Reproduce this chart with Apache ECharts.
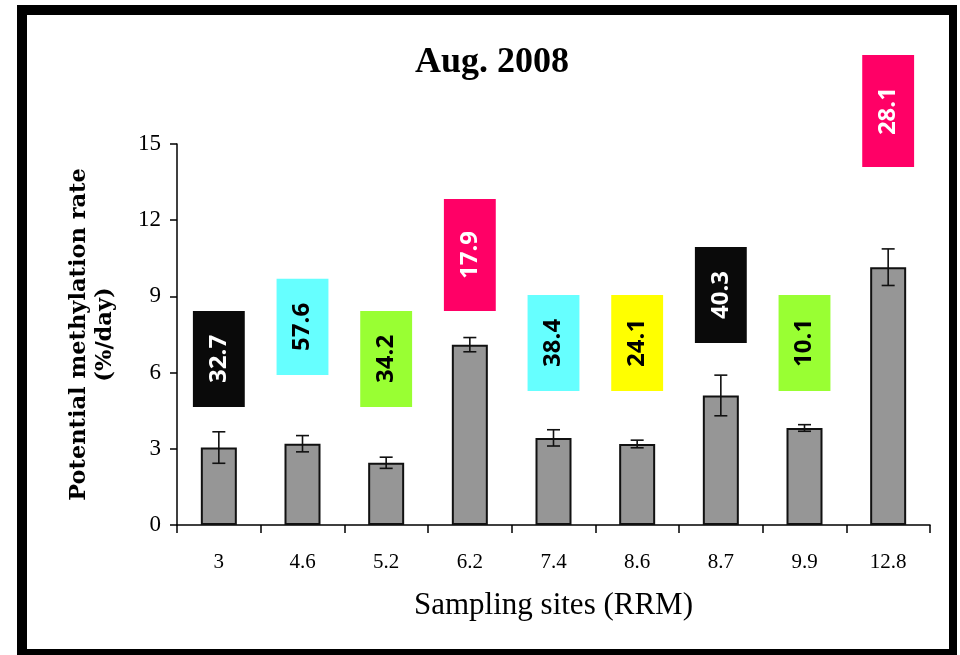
<!DOCTYPE html>
<html>
<head>
<meta charset="utf-8">
<script src="https://cdn.jsdelivr.net/npm/echarts@6/dist/echarts.min.js"></script>
<style>
  html, body { margin: 0; padding: 0; background: #fff; }
  #chart { width: 960px; height: 655px; }
</style>
</head>
<body>
<div id="chart"></div>
<script>
// Sampling sites along the river (river mile) and measured rates
const sites = ['3', '4.6', '5.2', '6.2', '7.4', '8.6', '8.7', '9.9', '12.8'];
const rates = [3.05, 3.2, 2.45, 7.1, 3.43, 3.19, 5.1, 3.82, 10.15];
const rateErrors = [0.62, 0.32, 0.22, 0.28, 0.32, 0.15, 0.8, 0.13, 0.72];
// Values printed in the coloured tags above each site
const tagValues = ['32.7', '57.6', '34.2', '17.9', '38.4', '24.1', '40.3', '10.1', '28.1'];
const yTicks = [0, 3, 6, 9, 12, 15];

// Tag placement (in axis units) and colours
const tagLayout = {
  top:    [8.43, 9.69, 8.43, 12.83, 9.06, 9.06, 10.94, 9.06, 18.5],
  bottom: [4.65, 5.91, 4.65, 8.43, 5.28, 5.28, 7.17, 5.28, 14.09],
  fill:   ['#0a0a0a', '#66ffff', '#99ff33', '#ff0066', '#66ffff', '#ffff00', '#0a0a0a', '#99ff33', '#ff0066'],
  ink:    ['#ffffff', '#000000', '#000000', '#ffffff', '#000000', '#000000', '#ffffff', '#000000', '#ffffff']
};

const serif = '"Liberation Serif", "Times New Roman", serif';

const chart = echarts.init(document.getElementById('chart'), null, { renderer: 'canvas' });

chart.setOption({
  animation: false,
  backgroundColor: '#ffffff',
  graphic: [
    { type: 'rect', z: -10, shape: { x: 17, y: 5, width: 940, height: 650 }, style: { fill: '#000' } },
    { type: 'rect', z: -9, shape: { x: 27, y: 15, width: 922, height: 634 }, style: { fill: '#fff' } }
  ],
  title: {
    text: 'Aug. 2008',
    left: 487,
    textAlign: 'center',
    top: 40,
    textStyle: { fontFamily: serif, fontWeight: 'bold', fontSize: 36, color: '#000' }
  },
  grid: { left: 177, right: 30, top: 144, bottom: 130, containLabel: false },
  xAxis: {
    type: 'category',
    data: sites,
    name: 'Sampling sites (RRM)',
    nameLocation: 'middle',
    nameGap: 65,
    nameTextStyle: { fontFamily: serif, fontSize: 31, color: '#000' },
    axisLine: { lineStyle: { color: '#000', width: 1.5 } },
    axisTick: { show: true, length: 8, alignWithLabel: false, lineStyle: { color: '#000', width: 1.5 } },
    axisLabel: { fontFamily: serif, fontSize: 21, color: '#000', margin: 27 }
  },
  yAxis: {
    type: 'value',
    min: 0,
    max: 15,
    interval: 3,
    name: 'Potential methylation rate\n(%/day)',
    nameLocation: 'middle',
    nameGap: 59,
    nameRotate: 90,
    nameTextStyle: { fontFamily: '"DejaVu Serif", serif', fontWeight: 'bold', fontSize: 22.5, lineHeight: 26, color: '#000' },
    axisLine: { show: true, lineStyle: { color: '#000', width: 1.5 } },
    axisTick: { show: true, length: 7, lineStyle: { color: '#000', width: 1.5 } },
    splitLine: { show: false },
    axisLabel: {
      fontFamily: serif, fontSize: 23, color: '#000', margin: 16,
      formatter: v => (yTicks.indexOf(v) >= 0 ? String(v) : '')
    }
  },
  series: [
    {
      type: 'bar',
      data: rates,
      barWidth: 36,
      itemStyle: { color: '#969696', borderColor: '#111', borderWidth: 2 },
      z: 2
    },
    {
      // error bars: mean ± error
      type: 'custom',
      z: 3,
      data: rates.map((r, i) => [i, r - rateErrors[i], r + rateErrors[i]]),
      renderItem: function (params, api) {
        const lo = api.coord([api.value(0), api.value(1)]);
        const hi = api.coord([api.value(0), api.value(2)]);
        const half = 6.5;
        const st = { stroke: '#111', lineWidth: 1.6 };
        return {
          type: 'group',
          children: [
            { type: 'line', shape: { x1: lo[0], y1: lo[1], x2: hi[0], y2: hi[1] }, style: st },
            { type: 'line', shape: { x1: lo[0] - half, y1: lo[1], x2: lo[0] + half, y2: lo[1] }, style: st },
            { type: 'line', shape: { x1: hi[0] - half, y1: hi[1], x2: hi[0] + half, y2: hi[1] }, style: st }
          ]
        };
      }
    },
    {
      // coloured value tags
      type: 'custom',
      z: 4,
      clip: false,
      data: tagValues.map((t, i) => [i, tagLayout.top[i], tagLayout.bottom[i]]),
      renderItem: function (params, api) {
        const i = params.dataIndex;
        const a = api.coord([api.value(0), api.value(1)]);
        const b = api.coord([api.value(0), api.value(2)]);
        const w = api.size([1, 0])[0] * 0.62;
        return {
          type: 'group',
          children: [
            { type: 'rect', shape: { x: a[0] - w / 2, y: a[1], width: w, height: b[1] - a[1] },
              style: { fill: tagLayout.fill[i] } },
            { type: 'text', x: a[0], y: (a[1] + b[1]) / 2, rotation: Math.PI / 2,
              style: { text: tagValues[i], fill: tagLayout.ink[i], align: 'center', verticalAlign: 'middle',
                       font: 'bold 24px "Open Sans", sans-serif' } }
          ]
        };
      }
    }
  ]
});
</script>
</body>
</html>
